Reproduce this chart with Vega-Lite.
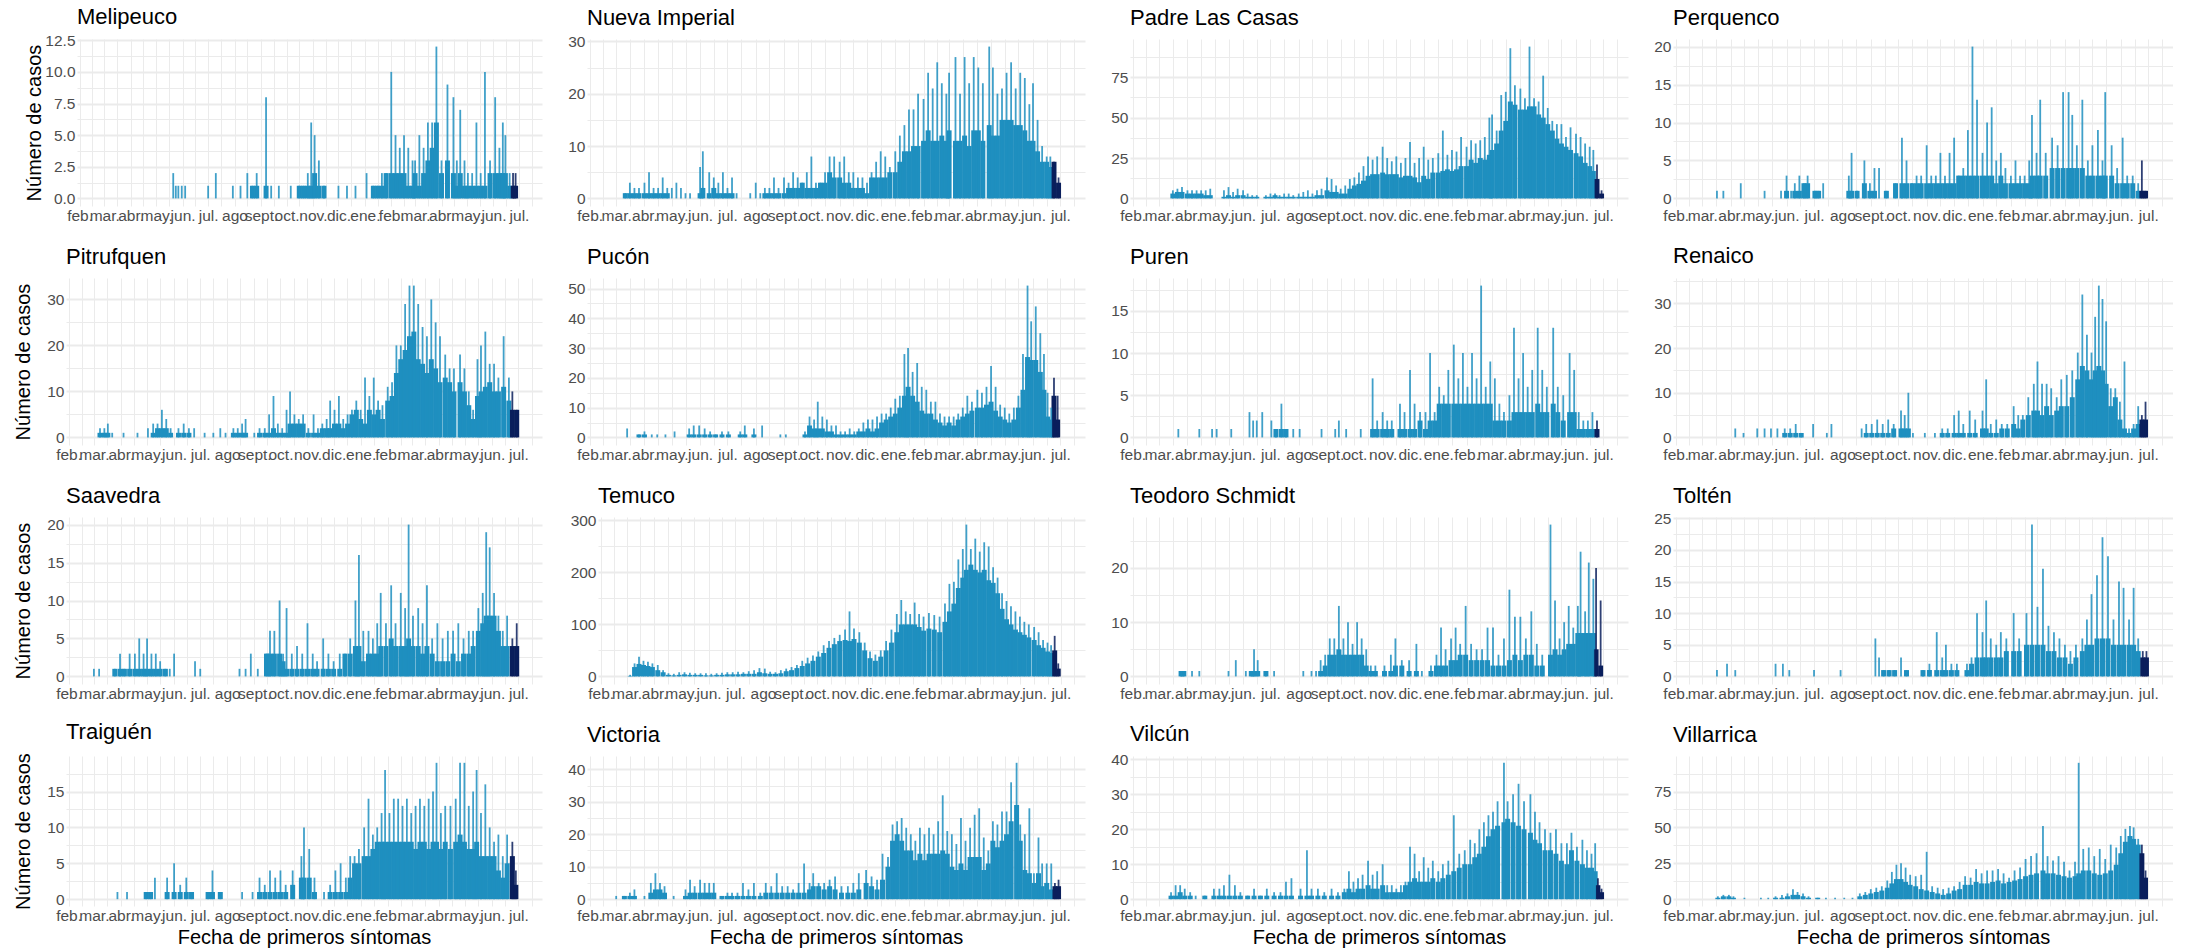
{"$schema":"https://vega.github.io/schema/vega-lite/v6.json","background":"white","padding":{"left":12,"top":6,"right":0,"bottom":0},"bounds":"flush","columns":4,"spacing":{"row":72,"column":45},"params":[{"name":"M","value":["ene.","feb.","mar.","abr.","may.","jun.","jul.","ago","sept.","oct.","nov.","dic."]}],"config":{"view":{"stroke":null},"font":"Liberation Sans","title":{"anchor":"start","frame":"group","fontSize":22,"fontWeight":"normal","color":"#000000","offset":9,"font":"Liberation Sans"},"axis":{"ticks":false,"domain":false,"gridColor":"#ebebeb","labelColor":"#4d4d4d","labelFontSize":15.5,"labelFont":"Liberation Sans","titleFont":"Liberation Sans","titleFontSize":20,"titleFontWeight":"normal","titleColor":"#000000"}},
"datasets":{
"mel":[{"d":"2020-05-21","n":0,"p":2},{"d":"2020-05-24","n":0,"p":1},{"d":"2020-05-27","n":0,"p":1},{"d":"2020-05-31","n":0,"p":1},{"d":"2020-06-04","n":0,"p":1},{"d":"2020-07-01","n":0,"p":1},{"d":"2020-07-10","n":0,"p":2},{"d":"2020-07-30","n":0,"p":1},{"d":"2020-08-08","n":0,"p":1},{"d":"2020-08-16","n":0,"p":2},{"d":"2020-08-22","n":1,"p":1},{"d":"2020-08-27","n":1,"p":2},{"d":"2020-09-07","n":1,"p":8},{"d":"2020-09-13","n":0,"p":1},{"d":"2020-09-22","n":0,"p":1},{"d":"2020-10-06","n":0,"p":1},{"d":"2020-10-16","n":1,"p":1},{"d":"2020-10-21","n":1,"p":1},{"d":"2020-10-26","n":1,"p":2},{"d":"2020-10-30","n":1,"p":6},{"d":"2020-11-03","n":2,"p":5},{"d":"2020-11-08","n":1,"p":3},{"d":"2020-11-14","n":1,"p":1},{"d":"2020-12-01","n":0,"p":1},{"d":"2020-12-11","n":0,"p":1},{"d":"2020-12-21","n":0,"p":1},{"d":"2021-01-03","n":0,"p":2},{"d":"2021-01-11","n":1,"p":1},{"d":"2021-01-16","n":1,"p":1},{"d":"2021-01-21","n":1,"p":2},{"d":"2021-01-26","n":2,"p":2},{"d":"2021-02-01","n":2,"p":10},{"d":"2021-02-06","n":2,"p":5},{"d":"2021-02-11","n":2,"p":4},{"d":"2021-02-16","n":2,"p":5},{"d":"2021-02-21","n":1,"p":4},{"d":"2021-02-26","n":1,"p":3},{"d":"2021-03-01","n":2,"p":3},{"d":"2021-03-06","n":1,"p":5},{"d":"2021-03-11","n":2,"p":4},{"d":"2021-03-16","n":3,"p":6},{"d":"2021-03-21","n":4,"p":6},{"d":"2021-03-26","n":6,"p":12},{"d":"2021-04-01","n":2,"p":3},{"d":"2021-04-08","n":3,"p":9},{"d":"2021-04-15","n":2,"p":8},{"d":"2021-04-19","n":1,"p":3},{"d":"2021-04-23","n":2,"p":7},{"d":"2021-04-28","n":1,"p":3},{"d":"2021-05-02","n":1,"p":2},{"d":"2021-05-07","n":1,"p":2},{"d":"2021-05-12","n":1,"p":6},{"d":"2021-05-17","n":1,"p":2},{"d":"2021-05-22","n":1,"p":10},{"d":"2021-05-28","n":2,"p":3},{"d":"2021-06-03","n":2,"p":8},{"d":"2021-06-08","n":2,"p":4},{"d":"2021-06-12","n":2,"p":6},{"d":"2021-06-15","n":2,"p":5},{"d":"2021-06-20","n":1,"p":2},{"d":"2021-06-24","n":1,"p":2},{"d":"2021-06-27","n":1,"p":2}],
"imp":[{"d":"2020-03-11","n":1,"p":1},{"d":"2020-03-16","n":1,"p":3},{"d":"2020-03-21","n":1,"p":2},{"d":"2020-03-26","n":1,"p":2},{"d":"2020-04-01","n":1,"p":3},{"d":"2020-04-06","n":1,"p":5},{"d":"2020-04-11","n":1,"p":2},{"d":"2020-04-16","n":1,"p":2},{"d":"2020-04-21","n":1,"p":4},{"d":"2020-04-26","n":1,"p":2},{"d":"2020-05-01","n":0,"p":2},{"d":"2020-05-06","n":0,"p":3},{"d":"2020-05-11","n":0,"p":2},{"d":"2020-05-16","n":0,"p":1},{"d":"2020-05-21","n":0,"p":1},{"d":"2020-06-01","n":1,"p":6},{"d":"2020-06-04","n":2,"p":9},{"d":"2020-06-11","n":1,"p":5},{"d":"2020-06-16","n":2,"p":4},{"d":"2020-06-21","n":1,"p":3},{"d":"2020-06-26","n":1,"p":5},{"d":"2020-07-01","n":1,"p":2},{"d":"2020-07-06","n":1,"p":4},{"d":"2020-07-11","n":0,"p":1},{"d":"2020-07-26","n":0,"p":1},{"d":"2020-08-01","n":0,"p":3},{"d":"2020-08-06","n":0,"p":1},{"d":"2020-08-11","n":1,"p":2},{"d":"2020-08-16","n":1,"p":2},{"d":"2020-08-21","n":1,"p":4},{"d":"2020-08-26","n":1,"p":2},{"d":"2020-09-01","n":1,"p":4},{"d":"2020-09-06","n":2,"p":3},{"d":"2020-09-11","n":2,"p":5},{"d":"2020-09-16","n":2,"p":4},{"d":"2020-09-21","n":3,"p":3},{"d":"2020-09-26","n":2,"p":5},{"d":"2020-10-01","n":2,"p":8},{"d":"2020-10-06","n":2,"p":3},{"d":"2020-10-11","n":3,"p":3},{"d":"2020-10-16","n":3,"p":5},{"d":"2020-10-21","n":5,"p":8},{"d":"2020-10-26","n":4,"p":8},{"d":"2020-11-01","n":4,"p":7},{"d":"2020-11-06","n":3,"p":8},{"d":"2020-11-11","n":3,"p":5},{"d":"2020-11-16","n":2,"p":5},{"d":"2020-11-21","n":2,"p":4},{"d":"2020-11-26","n":2,"p":4},{"d":"2020-12-01","n":1,"p":3},{"d":"2020-12-06","n":4,"p":5},{"d":"2020-12-11","n":4,"p":7},{"d":"2020-12-16","n":4,"p":9},{"d":"2020-12-21","n":4,"p":8},{"d":"2020-12-26","n":5,"p":6},{"d":"2021-01-01","n":5,"p":9},{"d":"2021-01-06","n":7,"p":12},{"d":"2021-01-11","n":9,"p":14},{"d":"2021-01-16","n":9,"p":17},{"d":"2021-01-21","n":10,"p":17},{"d":"2021-01-26","n":10,"p":20},{"d":"2021-02-01","n":11,"p":19},{"d":"2021-02-06","n":13,"p":24},{"d":"2021-02-11","n":11,"p":21},{"d":"2021-02-16","n":11,"p":26},{"d":"2021-02-21","n":12,"p":22},{"d":"2021-02-26","n":11,"p":20},{"d":"2021-03-01","n":13,"p":24},{"d":"2021-03-08","n":11,"p":27},{"d":"2021-03-13","n":11,"p":20},{"d":"2021-03-18","n":12,"p":27},{"d":"2021-03-23","n":10,"p":22},{"d":"2021-03-28","n":13,"p":27},{"d":"2021-04-02","n":13,"p":25},{"d":"2021-04-07","n":11,"p":22},{"d":"2021-04-14","n":14,"p":29},{"d":"2021-04-18","n":12,"p":25},{"d":"2021-04-23","n":12,"p":20},{"d":"2021-04-28","n":15,"p":21},{"d":"2021-05-03","n":15,"p":24},{"d":"2021-05-08","n":15,"p":26},{"d":"2021-05-13","n":14,"p":21},{"d":"2021-05-18","n":14,"p":24},{"d":"2021-05-23","n":13,"p":23},{"d":"2021-05-28","n":11,"p":18},{"d":"2021-06-01","n":11,"p":22},{"d":"2021-06-06","n":9,"p":15},{"d":"2021-06-11","n":7,"p":10},{"d":"2021-06-16","n":7,"p":8},{"d":"2021-06-20","n":6,"p":8},{"d":"2021-06-24","n":7,"p":7},{"d":"2021-06-29","n":3,"p":4}],
"pad":[{"d":"2020-03-16","n":3,"p":5},{"d":"2020-03-21","n":4,"p":6},{"d":"2020-03-26","n":4,"p":7},{"d":"2020-04-01","n":3,"p":5},{"d":"2020-04-06","n":3,"p":5},{"d":"2020-04-11","n":3,"p":5},{"d":"2020-04-16","n":3,"p":5},{"d":"2020-04-21","n":2,"p":5},{"d":"2020-04-26","n":2,"p":6},{"d":"2020-05-11","n":1,"p":5},{"d":"2020-05-16","n":2,"p":7},{"d":"2020-05-21","n":1,"p":4},{"d":"2020-05-26","n":2,"p":6},{"d":"2020-06-01","n":2,"p":5},{"d":"2020-06-06","n":1,"p":3},{"d":"2020-06-11","n":1,"p":2},{"d":"2020-06-16","n":1,"p":2},{"d":"2020-06-26","n":1,"p":2},{"d":"2020-07-01","n":1,"p":3},{"d":"2020-07-06","n":2,"p":3},{"d":"2020-07-11","n":1,"p":2},{"d":"2020-07-16","n":1,"p":3},{"d":"2020-07-21","n":1,"p":3},{"d":"2020-07-26","n":1,"p":2},{"d":"2020-08-01","n":1,"p":3},{"d":"2020-08-06","n":1,"p":4},{"d":"2020-08-11","n":1,"p":5},{"d":"2020-08-16","n":1,"p":3},{"d":"2020-08-21","n":2,"p":5},{"d":"2020-08-26","n":2,"p":6},{"d":"2020-09-01","n":5,"p":13},{"d":"2020-09-06","n":4,"p":12},{"d":"2020-09-11","n":4,"p":8},{"d":"2020-09-16","n":3,"p":6},{"d":"2020-09-21","n":3,"p":8},{"d":"2020-09-26","n":6,"p":12},{"d":"2020-10-01","n":8,"p":13},{"d":"2020-10-06","n":9,"p":16},{"d":"2020-10-11","n":11,"p":20},{"d":"2020-10-16","n":14,"p":26},{"d":"2020-10-21","n":15,"p":24},{"d":"2020-10-26","n":15,"p":26},{"d":"2020-11-01","n":16,"p":32},{"d":"2020-11-06","n":15,"p":25},{"d":"2020-11-11","n":15,"p":23},{"d":"2020-11-16","n":15,"p":26},{"d":"2020-11-21","n":13,"p":22},{"d":"2020-11-26","n":14,"p":25},{"d":"2020-12-01","n":14,"p":35},{"d":"2020-12-06","n":13,"p":22},{"d":"2020-12-11","n":10,"p":25},{"d":"2020-12-16","n":14,"p":32},{"d":"2020-12-21","n":12,"p":24},{"d":"2020-12-26","n":16,"p":25},{"d":"2021-01-01","n":16,"p":28},{"d":"2021-01-06","n":17,"p":42},{"d":"2021-01-11","n":18,"p":27},{"d":"2021-01-16","n":17,"p":30},{"d":"2021-01-21","n":18,"p":29},{"d":"2021-01-26","n":20,"p":38},{"d":"2021-02-01","n":20,"p":32},{"d":"2021-02-06","n":24,"p":36},{"d":"2021-02-11","n":22,"p":34},{"d":"2021-02-16","n":25,"p":36},{"d":"2021-02-21","n":24,"p":38},{"d":"2021-02-26","n":27,"p":50},{"d":"2021-03-01","n":30,"p":52},{"d":"2021-03-06","n":34,"p":42},{"d":"2021-03-11","n":42,"p":64},{"d":"2021-03-16","n":48,"p":66},{"d":"2021-03-21","n":60,"p":93},{"d":"2021-03-26","n":58,"p":70},{"d":"2021-04-01","n":55,"p":68},{"d":"2021-04-06","n":55,"p":62},{"d":"2021-04-11","n":57,"p":94},{"d":"2021-04-16","n":57,"p":62},{"d":"2021-04-21","n":52,"p":60},{"d":"2021-04-26","n":50,"p":76},{"d":"2021-05-01","n":46,"p":56},{"d":"2021-05-06","n":42,"p":48},{"d":"2021-05-11","n":37,"p":46},{"d":"2021-05-16","n":34,"p":46},{"d":"2021-05-21","n":32,"p":38},{"d":"2021-05-26","n":30,"p":44},{"d":"2021-06-01","n":28,"p":40},{"d":"2021-06-06","n":26,"p":38},{"d":"2021-06-11","n":22,"p":34},{"d":"2021-06-16","n":20,"p":32},{"d":"2021-06-20","n":17,"p":30},{"d":"2021-06-24","n":12,"p":21},{"d":"2021-06-29","n":3,"p":5}],
"per":[{"d":"2020-03-17","n":0,"p":1},{"d":"2020-03-24","n":0,"p":1},{"d":"2020-04-12","n":0,"p":2},{"d":"2020-05-08","n":0,"p":1},{"d":"2020-05-26","n":0,"p":1},{"d":"2020-06-01","n":1,"p":3},{"d":"2020-06-06","n":0,"p":1},{"d":"2020-06-10","n":1,"p":2},{"d":"2020-06-15","n":1,"p":3},{"d":"2020-06-20","n":2,"p":2},{"d":"2020-06-24","n":2,"p":3},{"d":"2020-07-02","n":1,"p":1},{"d":"2020-07-06","n":1,"p":1},{"d":"2020-07-11","n":0,"p":2},{"d":"2020-08-08","n":1,"p":3},{"d":"2020-08-11","n":1,"p":6},{"d":"2020-08-17","n":1,"p":1},{"d":"2020-08-25","n":2,"p":5},{"d":"2020-08-31","n":1,"p":2},{"d":"2020-09-05","n":1,"p":4},{"d":"2020-09-10","n":0,"p":4},{"d":"2020-09-18","n":1,"p":1},{"d":"2020-09-28","n":2,"p":2},{"d":"2020-10-05","n":2,"p":8},{"d":"2020-10-10","n":2,"p":5},{"d":"2020-10-16","n":2,"p":2},{"d":"2020-10-21","n":2,"p":3},{"d":"2020-10-26","n":2,"p":3},{"d":"2020-11-01","n":2,"p":7},{"d":"2020-11-06","n":2,"p":3},{"d":"2020-11-11","n":2,"p":3},{"d":"2020-11-16","n":2,"p":6},{"d":"2020-11-21","n":2,"p":3},{"d":"2020-11-26","n":2,"p":6},{"d":"2020-12-01","n":2,"p":8},{"d":"2020-12-06","n":3,"p":3},{"d":"2020-12-11","n":3,"p":4},{"d":"2020-12-16","n":3,"p":9},{"d":"2020-12-21","n":3,"p":20},{"d":"2020-12-26","n":3,"p":13},{"d":"2021-01-01","n":3,"p":6},{"d":"2021-01-06","n":3,"p":10},{"d":"2021-01-11","n":3,"p":12},{"d":"2021-01-16","n":2,"p":5},{"d":"2021-01-21","n":3,"p":6},{"d":"2021-01-26","n":2,"p":4},{"d":"2021-02-01","n":2,"p":3},{"d":"2021-02-06","n":2,"p":5},{"d":"2021-02-11","n":2,"p":3},{"d":"2021-02-16","n":2,"p":3},{"d":"2021-02-21","n":2,"p":5},{"d":"2021-02-24","n":3,"p":11},{"d":"2021-03-01","n":3,"p":6},{"d":"2021-03-05","n":3,"p":13},{"d":"2021-03-11","n":3,"p":6},{"d":"2021-03-18","n":4,"p":8},{"d":"2021-03-24","n":4,"p":7},{"d":"2021-03-30","n":4,"p":14},{"d":"2021-04-05","n":4,"p":14},{"d":"2021-04-09","n":4,"p":11},{"d":"2021-04-14","n":4,"p":7},{"d":"2021-04-20","n":4,"p":13},{"d":"2021-04-26","n":3,"p":5},{"d":"2021-05-01","n":3,"p":7},{"d":"2021-05-07","n":3,"p":9},{"d":"2021-05-12","n":3,"p":5},{"d":"2021-05-15","n":3,"p":14},{"d":"2021-05-22","n":3,"p":7},{"d":"2021-05-28","n":2,"p":4},{"d":"2021-06-03","n":2,"p":8},{"d":"2021-06-08","n":2,"p":3},{"d":"2021-06-14","n":2,"p":3},{"d":"2021-06-20","n":1,"p":2},{"d":"2021-06-24","n":1,"p":5},{"d":"2021-06-28","n":1,"p":1}],
"pit":[{"d":"2020-03-08","n":1,"p":2},{"d":"2020-03-13","n":1,"p":2},{"d":"2020-03-17","n":1,"p":3},{"d":"2020-03-22","n":0,"p":1},{"d":"2020-04-04","n":0,"p":1},{"d":"2020-04-20","n":0,"p":1},{"d":"2020-05-02","n":0,"p":2},{"d":"2020-05-08","n":1,"p":3},{"d":"2020-05-13","n":2,"p":3},{"d":"2020-05-18","n":2,"p":6},{"d":"2020-05-23","n":2,"p":4},{"d":"2020-05-28","n":1,"p":2},{"d":"2020-06-06","n":1,"p":2},{"d":"2020-06-12","n":1,"p":3},{"d":"2020-06-18","n":1,"p":2},{"d":"2020-06-24","n":0,"p":2},{"d":"2020-07-06","n":0,"p":1},{"d":"2020-07-16","n":0,"p":1},{"d":"2020-07-24","n":0,"p":2},{"d":"2020-07-30","n":0,"p":1},{"d":"2020-08-08","n":1,"p":2},{"d":"2020-08-13","n":1,"p":2},{"d":"2020-08-18","n":1,"p":3},{"d":"2020-08-22","n":1,"p":4},{"d":"2020-09-01","n":0,"p":1},{"d":"2020-09-07","n":1,"p":2},{"d":"2020-09-13","n":1,"p":2},{"d":"2020-09-18","n":1,"p":5},{"d":"2020-09-23","n":2,"p":9},{"d":"2020-09-28","n":1,"p":3},{"d":"2020-10-03","n":1,"p":2},{"d":"2020-10-08","n":1,"p":6},{"d":"2020-10-12","n":3,"p":10},{"d":"2020-10-17","n":3,"p":5},{"d":"2020-10-22","n":3,"p":4},{"d":"2020-10-27","n":3,"p":5},{"d":"2020-11-02","n":1,"p":2},{"d":"2020-11-08","n":1,"p":5},{"d":"2020-11-13","n":1,"p":2},{"d":"2020-11-18","n":2,"p":3},{"d":"2020-11-23","n":2,"p":4},{"d":"2020-11-27","n":2,"p":8},{"d":"2020-12-02","n":3,"p":6},{"d":"2020-12-07","n":3,"p":9},{"d":"2020-12-12","n":2,"p":4},{"d":"2020-12-17","n":3,"p":5},{"d":"2020-12-22","n":5,"p":6},{"d":"2020-12-27","n":6,"p":8},{"d":"2021-01-01","n":4,"p":6},{"d":"2021-01-06","n":3,"p":13},{"d":"2021-01-11","n":6,"p":9},{"d":"2021-01-16","n":5,"p":13},{"d":"2021-01-21","n":6,"p":8},{"d":"2021-01-26","n":4,"p":7},{"d":"2021-02-01","n":8,"p":11},{"d":"2021-02-06","n":9,"p":12},{"d":"2021-02-11","n":14,"p":20},{"d":"2021-02-16","n":17,"p":20},{"d":"2021-02-21","n":19,"p":29},{"d":"2021-02-26","n":22,"p":33},{"d":"2021-03-03","n":23,"p":33},{"d":"2021-03-08","n":17,"p":29},{"d":"2021-03-13","n":16,"p":24},{"d":"2021-03-18","n":14,"p":22},{"d":"2021-03-23","n":17,"p":30},{"d":"2021-03-28","n":15,"p":25},{"d":"2021-04-02","n":12,"p":22},{"d":"2021-04-08","n":13,"p":18},{"d":"2021-04-13","n":12,"p":15},{"d":"2021-04-18","n":10,"p":15},{"d":"2021-04-25","n":12,"p":18},{"d":"2021-04-30","n":10,"p":15},{"d":"2021-05-05","n":7,"p":10},{"d":"2021-05-10","n":4,"p":6},{"d":"2021-05-15","n":9,"p":17},{"d":"2021-05-19","n":10,"p":20},{"d":"2021-05-24","n":11,"p":23},{"d":"2021-05-29","n":12,"p":16},{"d":"2021-06-03","n":10,"p":16},{"d":"2021-06-08","n":10,"p":13},{"d":"2021-06-14","n":11,"p":22},{"d":"2021-06-20","n":8,"p":13},{"d":"2021-06-24","n":6,"p":10},{"d":"2021-06-29","n":6,"p":6}],
"puc":[{"d":"2020-03-13","n":0,"p":3},{"d":"2020-03-26","n":1,"p":1},{"d":"2020-04-01","n":1,"p":2},{"d":"2020-04-09","n":0,"p":1},{"d":"2020-04-15","n":0,"p":1},{"d":"2020-04-24","n":0,"p":1},{"d":"2020-05-04","n":0,"p":2},{"d":"2020-05-20","n":1,"p":3},{"d":"2020-05-25","n":1,"p":4},{"d":"2020-05-31","n":1,"p":4},{"d":"2020-06-06","n":1,"p":3},{"d":"2020-06-12","n":1,"p":2},{"d":"2020-06-18","n":1,"p":1},{"d":"2020-06-25","n":1,"p":2},{"d":"2020-07-02","n":1,"p":2},{"d":"2020-07-15","n":1,"p":2},{"d":"2020-07-20","n":1,"p":4},{"d":"2020-07-30","n":1,"p":3},{"d":"2020-08-08","n":0,"p":4},{"d":"2020-08-28","n":0,"p":1},{"d":"2020-09-03","n":0,"p":1},{"d":"2020-09-24","n":1,"p":2},{"d":"2020-09-29","n":4,"p":7},{"d":"2020-10-04","n":3,"p":6},{"d":"2020-10-08","n":3,"p":12},{"d":"2020-10-13","n":3,"p":7},{"d":"2020-10-18","n":2,"p":6},{"d":"2020-10-23","n":2,"p":4},{"d":"2020-10-28","n":1,"p":4},{"d":"2020-11-02","n":1,"p":2},{"d":"2020-11-07","n":1,"p":2},{"d":"2020-11-12","n":1,"p":3},{"d":"2020-11-17","n":1,"p":2},{"d":"2020-11-22","n":2,"p":3},{"d":"2020-11-27","n":2,"p":5},{"d":"2020-12-02","n":3,"p":6},{"d":"2020-12-07","n":2,"p":6},{"d":"2020-12-12","n":3,"p":7},{"d":"2020-12-17","n":5,"p":8},{"d":"2020-12-22","n":6,"p":8},{"d":"2020-12-27","n":7,"p":10},{"d":"2021-01-01","n":8,"p":13},{"d":"2021-01-06","n":10,"p":14},{"d":"2021-01-11","n":14,"p":28},{"d":"2021-01-15","n":17,"p":30},{"d":"2021-01-20","n":14,"p":22},{"d":"2021-01-25","n":12,"p":25},{"d":"2021-01-30","n":9,"p":17},{"d":"2021-02-04","n":8,"p":16},{"d":"2021-02-09","n":8,"p":12},{"d":"2021-02-14","n":6,"p":12},{"d":"2021-02-19","n":5,"p":8},{"d":"2021-02-24","n":4,"p":7},{"d":"2021-03-01","n":5,"p":7},{"d":"2021-03-06","n":4,"p":7},{"d":"2021-03-11","n":6,"p":8},{"d":"2021-03-16","n":7,"p":10},{"d":"2021-03-21","n":8,"p":14},{"d":"2021-03-26","n":9,"p":12},{"d":"2021-04-01","n":10,"p":16},{"d":"2021-04-06","n":10,"p":15},{"d":"2021-04-11","n":11,"p":17},{"d":"2021-04-16","n":12,"p":24},{"d":"2021-04-21","n":9,"p":17},{"d":"2021-04-26","n":7,"p":11},{"d":"2021-05-01","n":6,"p":10},{"d":"2021-05-06","n":5,"p":8},{"d":"2021-05-11","n":6,"p":10},{"d":"2021-05-16","n":10,"p":14},{"d":"2021-05-21","n":16,"p":28},{"d":"2021-05-26","n":27,"p":51},{"d":"2021-05-30","n":26,"p":39},{"d":"2021-06-04","n":26,"p":44},{"d":"2021-06-09","n":22,"p":35},{"d":"2021-06-13","n":16,"p":28},{"d":"2021-06-17","n":7,"p":15},{"d":"2021-06-21","n":6,"p":10},{"d":"2021-06-24","n":14,"p":20},{"d":"2021-06-28","n":6,"p":14}],
"pur":[{"d":"2020-03-22","n":0,"p":1},{"d":"2020-04-14","n":0,"p":1},{"d":"2020-04-28","n":0,"p":1},{"d":"2020-05-03","n":0,"p":1},{"d":"2020-05-19","n":0,"p":1},{"d":"2020-06-08","n":0,"p":3},{"d":"2020-06-12","n":0,"p":2},{"d":"2020-06-16","n":0,"p":2},{"d":"2020-06-22","n":0,"p":3},{"d":"2020-07-02","n":0,"p":2},{"d":"2020-07-07","n":1,"p":1},{"d":"2020-07-13","n":1,"p":4},{"d":"2020-07-18","n":1,"p":1},{"d":"2020-07-26","n":0,"p":1},{"d":"2020-08-02","n":0,"p":1},{"d":"2020-08-26","n":0,"p":1},{"d":"2020-09-10","n":0,"p":1},{"d":"2020-09-14","n":0,"p":2},{"d":"2020-09-22","n":0,"p":1},{"d":"2020-10-08","n":0,"p":1},{"d":"2020-10-21","n":1,"p":7},{"d":"2020-10-26","n":1,"p":2},{"d":"2020-11-01","n":1,"p":3},{"d":"2020-11-06","n":1,"p":2},{"d":"2020-11-11","n":1,"p":2},{"d":"2020-11-20","n":1,"p":4},{"d":"2020-11-25","n":1,"p":3},{"d":"2020-12-01","n":1,"p":8},{"d":"2020-12-06","n":1,"p":4},{"d":"2020-12-12","n":2,"p":3},{"d":"2020-12-18","n":1,"p":3},{"d":"2020-12-23","n":2,"p":10},{"d":"2020-12-28","n":2,"p":3},{"d":"2021-01-02","n":4,"p":6},{"d":"2021-01-07","n":4,"p":5},{"d":"2021-01-12","n":4,"p":8},{"d":"2021-01-18","n":4,"p":11},{"d":"2021-01-23","n":4,"p":7},{"d":"2021-01-28","n":4,"p":10},{"d":"2021-02-02","n":4,"p":6},{"d":"2021-02-07","n":4,"p":10},{"d":"2021-02-12","n":4,"p":7},{"d":"2021-02-17","n":4,"p":18},{"d":"2021-02-22","n":4,"p":6},{"d":"2021-02-27","n":4,"p":9},{"d":"2021-03-04","n":2,"p":7},{"d":"2021-03-09","n":2,"p":4},{"d":"2021-03-14","n":2,"p":3},{"d":"2021-03-20","n":2,"p":5},{"d":"2021-03-25","n":3,"p":13},{"d":"2021-03-30","n":3,"p":7},{"d":"2021-04-04","n":3,"p":10},{"d":"2021-04-09","n":3,"p":6},{"d":"2021-04-14","n":3,"p":8},{"d":"2021-04-20","n":4,"p":13},{"d":"2021-04-25","n":3,"p":8},{"d":"2021-04-30","n":3,"p":6},{"d":"2021-05-07","n":4,"p":13},{"d":"2021-05-12","n":3,"p":6},{"d":"2021-05-18","n":2,"p":5},{"d":"2021-05-25","n":3,"p":10},{"d":"2021-05-30","n":3,"p":8},{"d":"2021-06-04","n":1,"p":3},{"d":"2021-06-09","n":1,"p":2},{"d":"2021-06-14","n":1,"p":2},{"d":"2021-06-19","n":1,"p":3},{"d":"2021-06-24","n":1,"p":2}],
"ren":[{"d":"2020-04-06","n":0,"p":2},{"d":"2020-04-15","n":0,"p":1},{"d":"2020-04-30","n":0,"p":2},{"d":"2020-05-08","n":0,"p":2},{"d":"2020-05-15","n":0,"p":2},{"d":"2020-05-22","n":0,"p":2},{"d":"2020-05-30","n":1,"p":2},{"d":"2020-06-05","n":1,"p":2},{"d":"2020-06-11","n":1,"p":3},{"d":"2020-06-17","n":1,"p":1},{"d":"2020-06-30","n":0,"p":3},{"d":"2020-07-15","n":0,"p":1},{"d":"2020-07-20","n":0,"p":3},{"d":"2020-08-22","n":0,"p":2},{"d":"2020-08-27","n":1,"p":3},{"d":"2020-09-02","n":1,"p":3},{"d":"2020-09-08","n":1,"p":4},{"d":"2020-09-14","n":1,"p":3},{"d":"2020-09-20","n":1,"p":4},{"d":"2020-09-26","n":2,"p":3},{"d":"2020-10-04","n":2,"p":6},{"d":"2020-10-08","n":2,"p":5},{"d":"2020-10-12","n":2,"p":10},{"d":"2020-10-17","n":0,"p":1},{"d":"2020-10-30","n":0,"p":1},{"d":"2020-11-10","n":0,"p":1},{"d":"2020-11-18","n":1,"p":2},{"d":"2020-11-24","n":1,"p":2},{"d":"2020-12-01","n":1,"p":5},{"d":"2020-12-06","n":1,"p":6},{"d":"2020-12-11","n":1,"p":3},{"d":"2020-12-18","n":1,"p":6},{"d":"2020-12-24","n":1,"p":4},{"d":"2021-01-01","n":2,"p":6},{"d":"2021-01-05","n":2,"p":13},{"d":"2021-01-10","n":1,"p":3},{"d":"2021-01-16","n":1,"p":4},{"d":"2021-01-22","n":2,"p":3},{"d":"2021-01-28","n":2,"p":3},{"d":"2021-02-04","n":3,"p":7},{"d":"2021-02-09","n":2,"p":5},{"d":"2021-02-14","n":4,"p":5},{"d":"2021-02-20","n":5,"p":9},{"d":"2021-02-26","n":6,"p":12},{"d":"2021-03-02","n":6,"p":17},{"d":"2021-03-07","n":5,"p":12},{"d":"2021-03-12","n":7,"p":12},{"d":"2021-03-17","n":5,"p":11},{"d":"2021-03-23","n":6,"p":9},{"d":"2021-03-28","n":7,"p":13},{"d":"2021-04-03","n":7,"p":14},{"d":"2021-04-09","n":9,"p":15},{"d":"2021-04-15","n":13,"p":19},{"d":"2021-04-20","n":16,"p":32},{"d":"2021-04-25","n":15,"p":23},{"d":"2021-04-30","n":13,"p":19},{"d":"2021-05-04","n":15,"p":27},{"d":"2021-05-08","n":16,"p":34},{"d":"2021-05-12","n":15,"p":31},{"d":"2021-05-16","n":12,"p":26},{"d":"2021-05-21","n":7,"p":11},{"d":"2021-05-26","n":9,"p":11},{"d":"2021-05-31","n":4,"p":8},{"d":"2021-06-05","n":2,"p":17},{"d":"2021-06-10","n":1,"p":2},{"d":"2021-06-15","n":2,"p":3},{"d":"2021-06-20","n":3,"p":7},{"d":"2021-06-24","n":4,"p":5},{"d":"2021-06-28","n":4,"p":8}],
"saa":[{"d":"2020-03-01","n":0,"p":1},{"d":"2020-03-07","n":0,"p":1},{"d":"2020-03-25","n":1,"p":1},{"d":"2020-03-31","n":1,"p":3},{"d":"2020-04-05","n":1,"p":1},{"d":"2020-04-11","n":1,"p":3},{"d":"2020-04-17","n":1,"p":3},{"d":"2020-04-22","n":1,"p":5},{"d":"2020-04-27","n":1,"p":3},{"d":"2020-05-01","n":1,"p":5},{"d":"2020-05-06","n":1,"p":3},{"d":"2020-05-11","n":1,"p":3},{"d":"2020-05-16","n":1,"p":2},{"d":"2020-05-22","n":1,"p":1},{"d":"2020-05-27","n":0,"p":1},{"d":"2020-06-01","n":0,"p":3},{"d":"2020-06-25","n":0,"p":2},{"d":"2020-07-01","n":0,"p":1},{"d":"2020-08-15","n":0,"p":1},{"d":"2020-08-22","n":0,"p":1},{"d":"2020-08-28","n":0,"p":3},{"d":"2020-09-05","n":0,"p":1},{"d":"2020-09-15","n":3,"p":3},{"d":"2020-09-19","n":3,"p":6},{"d":"2020-09-24","n":3,"p":6},{"d":"2020-09-30","n":3,"p":10},{"d":"2020-10-04","n":2,"p":3},{"d":"2020-10-08","n":1,"p":9},{"d":"2020-10-14","n":1,"p":3},{"d":"2020-10-20","n":1,"p":4},{"d":"2020-10-26","n":1,"p":3},{"d":"2020-11-01","n":1,"p":7},{"d":"2020-11-07","n":1,"p":3},{"d":"2020-11-12","n":1,"p":2},{"d":"2020-11-19","n":1,"p":5},{"d":"2020-11-25","n":1,"p":3},{"d":"2020-12-01","n":1,"p":2},{"d":"2020-12-08","n":1,"p":3},{"d":"2020-12-14","n":3,"p":3},{"d":"2020-12-20","n":3,"p":5},{"d":"2020-12-26","n":4,"p":10},{"d":"2020-12-30","n":4,"p":16},{"d":"2021-01-04","n":2,"p":6},{"d":"2021-01-10","n":3,"p":6},{"d":"2021-01-15","n":3,"p":5},{"d":"2021-01-20","n":3,"p":7},{"d":"2021-01-24","n":4,"p":11},{"d":"2021-01-30","n":4,"p":7},{"d":"2021-02-05","n":5,"p":12},{"d":"2021-02-10","n":4,"p":7},{"d":"2021-02-16","n":4,"p":11},{"d":"2021-02-21","n":4,"p":9},{"d":"2021-02-25","n":5,"p":20},{"d":"2021-03-02","n":4,"p":8},{"d":"2021-03-08","n":4,"p":9},{"d":"2021-03-13","n":3,"p":7},{"d":"2021-03-18","n":4,"p":12},{"d":"2021-03-24","n":3,"p":5},{"d":"2021-03-30","n":2,"p":7},{"d":"2021-04-05","n":2,"p":5},{"d":"2021-04-11","n":2,"p":6},{"d":"2021-04-17","n":3,"p":6},{"d":"2021-04-23","n":2,"p":7},{"d":"2021-04-29","n":3,"p":5},{"d":"2021-05-05","n":3,"p":6},{"d":"2021-05-10","n":4,"p":6},{"d":"2021-05-16","n":6,"p":9},{"d":"2021-05-21","n":7,"p":11},{"d":"2021-05-25","n":8,"p":19},{"d":"2021-05-29","n":8,"p":17},{"d":"2021-06-03","n":8,"p":11},{"d":"2021-06-08","n":6,"p":8},{"d":"2021-06-13","n":4,"p":6},{"d":"2021-06-18","n":4,"p":8},{"d":"2021-06-24","n":4,"p":5},{"d":"2021-06-29","n":4,"p":7}],
"tem":[{"d":"2020-03-05","n":1,"p":3},{"d":"2020-03-10","n":18,"p":25},{"d":"2020-03-15","n":24,"p":38},{"d":"2020-03-20","n":22,"p":30},{"d":"2020-03-25","n":20,"p":28},{"d":"2020-03-30","n":18,"p":25},{"d":"2020-04-05","n":12,"p":22},{"d":"2020-04-11","n":8,"p":12},{"d":"2020-04-17","n":3,"p":6},{"d":"2020-04-23","n":2,"p":5},{"d":"2020-04-29","n":3,"p":8},{"d":"2020-05-05","n":4,"p":8},{"d":"2020-05-11","n":3,"p":7},{"d":"2020-05-17","n":3,"p":6},{"d":"2020-05-23","n":3,"p":6},{"d":"2020-05-29","n":2,"p":6},{"d":"2020-06-04","n":2,"p":5},{"d":"2020-06-10","n":3,"p":6},{"d":"2020-06-16","n":3,"p":7},{"d":"2020-06-22","n":4,"p":8},{"d":"2020-06-28","n":4,"p":8},{"d":"2020-07-04","n":4,"p":9},{"d":"2020-07-10","n":5,"p":8},{"d":"2020-07-16","n":5,"p":10},{"d":"2020-07-22","n":5,"p":12},{"d":"2020-07-28","n":8,"p":16},{"d":"2020-08-03","n":6,"p":15},{"d":"2020-08-09","n":5,"p":9},{"d":"2020-08-15","n":5,"p":8},{"d":"2020-08-21","n":6,"p":12},{"d":"2020-08-27","n":10,"p":15},{"d":"2020-09-02","n":12,"p":18},{"d":"2020-09-08","n":16,"p":22},{"d":"2020-09-14","n":20,"p":30},{"d":"2020-09-20","n":25,"p":36},{"d":"2020-09-26","n":30,"p":40},{"d":"2020-10-02","n":38,"p":48},{"d":"2020-10-08","n":45,"p":60},{"d":"2020-10-14","n":55,"p":68},{"d":"2020-10-20","n":62,"p":74},{"d":"2020-10-26","n":68,"p":80},{"d":"2020-11-01","n":70,"p":90},{"d":"2020-11-06","n":68,"p":125},{"d":"2020-11-11","n":72,"p":92},{"d":"2020-11-17","n":65,"p":85},{"d":"2020-11-23","n":50,"p":65},{"d":"2020-11-29","n":35,"p":48},{"d":"2020-12-05","n":30,"p":42},{"d":"2020-12-11","n":38,"p":50},{"d":"2020-12-17","n":50,"p":68},{"d":"2020-12-23","n":65,"p":90},{"d":"2020-12-29","n":85,"p":120},{"d":"2021-01-03","n":100,"p":147},{"d":"2021-01-08","n":100,"p":125},{"d":"2021-01-13","n":100,"p":120},{"d":"2021-01-18","n":100,"p":142},{"d":"2021-01-23","n":95,"p":120},{"d":"2021-01-28","n":88,"p":115},{"d":"2021-02-03","n":92,"p":122},{"d":"2021-02-09","n":90,"p":118},{"d":"2021-02-15","n":85,"p":115},{"d":"2021-02-21","n":105,"p":140},{"d":"2021-02-26","n":125,"p":178},{"d":"2021-03-03","n":140,"p":182},{"d":"2021-03-08","n":170,"p":225},{"d":"2021-03-13","n":190,"p":245},{"d":"2021-03-17","n":205,"p":292},{"d":"2021-03-22","n":215,"p":245},{"d":"2021-03-27","n":205,"p":265},{"d":"2021-04-01","n":200,"p":240},{"d":"2021-04-06","n":205,"p":258},{"d":"2021-04-11","n":185,"p":250},{"d":"2021-04-16","n":180,"p":210},{"d":"2021-04-21","n":160,"p":190},{"d":"2021-04-26","n":130,"p":160},{"d":"2021-05-01","n":110,"p":145},{"d":"2021-05-06","n":100,"p":135},{"d":"2021-05-11","n":90,"p":125},{"d":"2021-05-16","n":85,"p":115},{"d":"2021-05-21","n":80,"p":105},{"d":"2021-05-26","n":75,"p":100},{"d":"2021-06-01","n":70,"p":95},{"d":"2021-06-06","n":60,"p":85},{"d":"2021-06-11","n":55,"p":70},{"d":"2021-06-16","n":48,"p":65},{"d":"2021-06-20","n":45,"p":60},{"d":"2021-06-24","n":50,"p":78},{"d":"2021-06-28","n":15,"p":25}],
"teo":[{"d":"2020-03-25","n":1,"p":1},{"d":"2020-03-28","n":1,"p":1},{"d":"2020-04-06","n":0,"p":1},{"d":"2020-04-14","n":0,"p":1},{"d":"2020-05-16","n":0,"p":1},{"d":"2020-05-24","n":0,"p":3},{"d":"2020-06-04","n":0,"p":1},{"d":"2020-06-10","n":1,"p":1},{"d":"2020-06-13","n":1,"p":5},{"d":"2020-06-17","n":1,"p":3},{"d":"2020-06-26","n":1,"p":1},{"d":"2020-07-05","n":0,"p":1},{"d":"2020-08-06","n":0,"p":1},{"d":"2020-08-15","n":0,"p":1},{"d":"2020-08-20","n":0,"p":1},{"d":"2020-08-25","n":1,"p":3},{"d":"2020-08-30","n":2,"p":4},{"d":"2020-09-04","n":4,"p":7},{"d":"2020-09-09","n":4,"p":7},{"d":"2020-09-14","n":5,"p":13},{"d":"2020-09-19","n":4,"p":7},{"d":"2020-09-24","n":4,"p":10},{"d":"2020-09-29","n":4,"p":6},{"d":"2020-10-04","n":4,"p":10},{"d":"2020-10-09","n":4,"p":7},{"d":"2020-10-14","n":2,"p":5},{"d":"2020-10-19","n":1,"p":2},{"d":"2020-10-24","n":1,"p":2},{"d":"2020-11-03","n":1,"p":2},{"d":"2020-11-10","n":1,"p":4},{"d":"2020-11-15","n":2,"p":7},{"d":"2020-11-22","n":2,"p":3},{"d":"2020-11-30","n":1,"p":3},{"d":"2020-12-08","n":1,"p":6},{"d":"2020-12-14","n":0,"p":1},{"d":"2020-12-24","n":1,"p":2},{"d":"2020-12-30","n":2,"p":4},{"d":"2021-01-04","n":2,"p":9},{"d":"2021-01-09","n":2,"p":5},{"d":"2021-01-15","n":3,"p":7},{"d":"2021-01-20","n":3,"p":9},{"d":"2021-01-25","n":4,"p":6},{"d":"2021-01-31","n":4,"p":13},{"d":"2021-02-06","n":3,"p":6},{"d":"2021-02-12","n":3,"p":5},{"d":"2021-02-18","n":3,"p":5},{"d":"2021-02-24","n":3,"p":9},{"d":"2021-03-02","n":2,"p":9},{"d":"2021-03-08","n":2,"p":4},{"d":"2021-03-14","n":2,"p":7},{"d":"2021-03-20","n":3,"p":16},{"d":"2021-03-26","n":4,"p":11},{"d":"2021-04-01","n":3,"p":11},{"d":"2021-04-07","n":4,"p":7},{"d":"2021-04-13","n":4,"p":12},{"d":"2021-04-19","n":2,"p":6},{"d":"2021-04-25","n":2,"p":4},{"d":"2021-05-04","n":4,"p":28},{"d":"2021-05-09","n":5,"p":14},{"d":"2021-05-14","n":4,"p":7},{"d":"2021-05-19","n":5,"p":10},{"d":"2021-05-24","n":6,"p":13},{"d":"2021-05-29","n":6,"p":9},{"d":"2021-06-03","n":8,"p":13},{"d":"2021-06-06","n":8,"p":23},{"d":"2021-06-11","n":8,"p":12},{"d":"2021-06-15","n":8,"p":21},{"d":"2021-06-20","n":8,"p":18},{"d":"2021-06-23","n":5,"p":20},{"d":"2021-06-28","n":2,"p":14}],
"tol":[{"d":"2020-03-17","n":0,"p":1},{"d":"2020-03-28","n":0,"p":2},{"d":"2020-04-06","n":0,"p":1},{"d":"2020-05-20","n":0,"p":2},{"d":"2020-05-28","n":0,"p":2},{"d":"2020-06-04","n":0,"p":1},{"d":"2020-07-01","n":0,"p":1},{"d":"2020-07-30","n":0,"p":1},{"d":"2020-09-06","n":0,"p":6},{"d":"2020-09-10","n":0,"p":3},{"d":"2020-09-15","n":1,"p":1},{"d":"2020-09-21","n":1,"p":1},{"d":"2020-09-27","n":1,"p":1},{"d":"2020-10-04","n":0,"p":3},{"d":"2020-10-10","n":1,"p":1},{"d":"2020-10-28","n":1,"p":1},{"d":"2020-11-04","n":1,"p":2},{"d":"2020-11-12","n":1,"p":7},{"d":"2020-11-18","n":1,"p":3},{"d":"2020-11-22","n":1,"p":5},{"d":"2020-11-28","n":1,"p":2},{"d":"2020-12-04","n":1,"p":2},{"d":"2020-12-15","n":1,"p":2},{"d":"2020-12-20","n":2,"p":3},{"d":"2020-12-26","n":3,"p":10},{"d":"2021-01-01","n":3,"p":7},{"d":"2021-01-05","n":3,"p":12},{"d":"2021-01-10","n":3,"p":6},{"d":"2021-01-16","n":3,"p":5},{"d":"2021-01-21","n":3,"p":7},{"d":"2021-01-27","n":4,"p":6},{"d":"2021-02-04","n":4,"p":10},{"d":"2021-02-10","n":4,"p":6},{"d":"2021-02-18","n":5,"p":10},{"d":"2021-02-24","n":5,"p":24},{"d":"2021-03-02","n":5,"p":11},{"d":"2021-03-08","n":5,"p":17},{"d":"2021-03-14","n":4,"p":8},{"d":"2021-03-20","n":4,"p":7},{"d":"2021-03-26","n":3,"p":6},{"d":"2021-04-01","n":3,"p":5},{"d":"2021-04-07","n":2,"p":4},{"d":"2021-04-13","n":3,"p":5},{"d":"2021-04-20","n":4,"p":6},{"d":"2021-04-25","n":5,"p":9},{"d":"2021-04-30","n":5,"p":13},{"d":"2021-05-06","n":6,"p":16},{"d":"2021-05-12","n":6,"p":22},{"d":"2021-05-18","n":6,"p":19},{"d":"2021-05-24","n":5,"p":9},{"d":"2021-05-30","n":5,"p":15},{"d":"2021-06-04","n":5,"p":14},{"d":"2021-06-10","n":5,"p":9},{"d":"2021-06-15","n":5,"p":14},{"d":"2021-06-20","n":4,"p":6},{"d":"2021-06-25","n":3,"p":4},{"d":"2021-06-29","n":3,"p":4}],
"tra":[{"d":"2020-03-28","n":0,"p":1},{"d":"2020-04-08","n":0,"p":1},{"d":"2020-04-30","n":1,"p":1},{"d":"2020-05-05","n":1,"p":1},{"d":"2020-05-10","n":0,"p":3},{"d":"2020-05-24","n":1,"p":3},{"d":"2020-06-01","n":1,"p":5},{"d":"2020-06-08","n":1,"p":2},{"d":"2020-06-15","n":1,"p":3},{"d":"2020-06-21","n":1,"p":1},{"d":"2020-07-10","n":1,"p":1},{"d":"2020-07-15","n":1,"p":4},{"d":"2020-07-24","n":1,"p":1},{"d":"2020-08-18","n":0,"p":1},{"d":"2020-08-30","n":0,"p":1},{"d":"2020-09-07","n":1,"p":3},{"d":"2020-09-13","n":1,"p":2},{"d":"2020-09-19","n":1,"p":4},{"d":"2020-09-25","n":1,"p":3},{"d":"2020-10-01","n":1,"p":4},{"d":"2020-10-07","n":1,"p":2},{"d":"2020-10-15","n":2,"p":4},{"d":"2020-10-25","n":3,"p":6},{"d":"2020-10-28","n":3,"p":10},{"d":"2020-11-03","n":3,"p":7},{"d":"2020-11-09","n":1,"p":3},{"d":"2020-11-20","n":0,"p":1},{"d":"2020-11-27","n":1,"p":2},{"d":"2020-12-03","n":1,"p":4},{"d":"2020-12-09","n":1,"p":5},{"d":"2020-12-15","n":1,"p":3},{"d":"2020-12-20","n":3,"p":6},{"d":"2020-12-25","n":5,"p":6},{"d":"2020-12-30","n":5,"p":7},{"d":"2021-01-05","n":6,"p":10},{"d":"2021-01-10","n":6,"p":14},{"d":"2021-01-15","n":7,"p":9},{"d":"2021-01-20","n":8,"p":10},{"d":"2021-01-25","n":8,"p":12},{"d":"2021-01-29","n":8,"p":18},{"d":"2021-02-03","n":8,"p":12},{"d":"2021-02-08","n":8,"p":14},{"d":"2021-02-13","n":8,"p":14},{"d":"2021-02-18","n":8,"p":13},{"d":"2021-02-23","n":8,"p":14},{"d":"2021-02-28","n":8,"p":12},{"d":"2021-03-05","n":7,"p":13},{"d":"2021-03-10","n":8,"p":14},{"d":"2021-03-15","n":8,"p":13},{"d":"2021-03-20","n":7,"p":14},{"d":"2021-03-25","n":8,"p":15},{"d":"2021-03-29","n":8,"p":19},{"d":"2021-04-03","n":7,"p":12},{"d":"2021-04-08","n":8,"p":13},{"d":"2021-04-14","n":7,"p":13},{"d":"2021-04-20","n":8,"p":14},{"d":"2021-04-25","n":9,"p":19},{"d":"2021-04-30","n":8,"p":19},{"d":"2021-05-05","n":7,"p":13},{"d":"2021-05-10","n":7,"p":15},{"d":"2021-05-14","n":8,"p":18},{"d":"2021-05-19","n":6,"p":12},{"d":"2021-05-24","n":6,"p":16},{"d":"2021-05-29","n":6,"p":10},{"d":"2021-06-03","n":6,"p":8},{"d":"2021-06-08","n":4,"p":9},{"d":"2021-06-13","n":3,"p":6},{"d":"2021-06-18","n":5,"p":9},{"d":"2021-06-24","n":6,"p":8},{"d":"2021-06-28","n":2,"p":4}],
"vic":[{"d":"2020-03-01","n":0,"p":1},{"d":"2020-03-10","n":1,"p":1},{"d":"2020-03-16","n":1,"p":2},{"d":"2020-03-21","n":1,"p":3},{"d":"2020-04-01","n":0,"p":1},{"d":"2020-04-08","n":2,"p":5},{"d":"2020-04-13","n":3,"p":8},{"d":"2020-04-18","n":3,"p":5},{"d":"2020-04-23","n":2,"p":4},{"d":"2020-05-03","n":0,"p":1},{"d":"2020-05-16","n":1,"p":3},{"d":"2020-05-21","n":2,"p":6},{"d":"2020-05-26","n":2,"p":4},{"d":"2020-06-01","n":2,"p":6},{"d":"2020-06-06","n":2,"p":5},{"d":"2020-06-11","n":2,"p":5},{"d":"2020-06-16","n":2,"p":5},{"d":"2020-06-25","n":1,"p":1},{"d":"2020-07-01","n":1,"p":2},{"d":"2020-07-06","n":1,"p":2},{"d":"2020-07-12","n":1,"p":2},{"d":"2020-07-18","n":1,"p":5},{"d":"2020-07-24","n":1,"p":3},{"d":"2020-07-30","n":1,"p":5},{"d":"2020-08-06","n":1,"p":2},{"d":"2020-08-12","n":2,"p":5},{"d":"2020-08-18","n":2,"p":4},{"d":"2020-08-24","n":2,"p":8},{"d":"2020-08-30","n":2,"p":4},{"d":"2020-09-05","n":2,"p":4},{"d":"2020-09-11","n":2,"p":3},{"d":"2020-09-17","n":2,"p":5},{"d":"2020-09-23","n":2,"p":11},{"d":"2020-09-29","n":3,"p":5},{"d":"2020-10-03","n":4,"p":8},{"d":"2020-10-09","n":4,"p":5},{"d":"2020-10-15","n":3,"p":5},{"d":"2020-10-21","n":4,"p":6},{"d":"2020-10-27","n":3,"p":7},{"d":"2020-11-03","n":2,"p":4},{"d":"2020-11-10","n":2,"p":4},{"d":"2020-11-16","n":2,"p":5},{"d":"2020-11-22","n":3,"p":8},{"d":"2020-11-30","n":5,"p":9},{"d":"2020-12-06","n":4,"p":7},{"d":"2020-12-12","n":3,"p":6},{"d":"2020-12-18","n":6,"p":14},{"d":"2020-12-24","n":10,"p":13},{"d":"2020-12-29","n":18,"p":23},{"d":"2021-01-03","n":20,"p":24},{"d":"2021-01-08","n":18,"p":25},{"d":"2021-01-13","n":15,"p":22},{"d":"2021-01-18","n":15,"p":20},{"d":"2021-01-23","n":12,"p":18},{"d":"2021-01-28","n":14,"p":22},{"d":"2021-02-02","n":12,"p":20},{"d":"2021-02-07","n":14,"p":22},{"d":"2021-02-12","n":14,"p":20},{"d":"2021-02-17","n":14,"p":24},{"d":"2021-02-22","n":15,"p":32},{"d":"2021-02-27","n":14,"p":21},{"d":"2021-03-04","n":10,"p":20},{"d":"2021-03-09","n":9,"p":17},{"d":"2021-03-14","n":11,"p":25},{"d":"2021-03-19","n":9,"p":18},{"d":"2021-03-24","n":13,"p":22},{"d":"2021-03-29","n":13,"p":26},{"d":"2021-04-03","n":13,"p":28},{"d":"2021-04-08","n":9,"p":19},{"d":"2021-04-13","n":11,"p":15},{"d":"2021-04-18","n":18,"p":24},{"d":"2021-04-23","n":16,"p":23},{"d":"2021-04-28","n":18,"p":27},{"d":"2021-05-03","n":20,"p":27},{"d":"2021-05-08","n":24,"p":36},{"d":"2021-05-14","n":29,"p":42},{"d":"2021-05-18","n":18,"p":23},{"d":"2021-05-23","n":9,"p":20},{"d":"2021-05-28","n":8,"p":28},{"d":"2021-06-02","n":5,"p":8},{"d":"2021-06-07","n":8,"p":19},{"d":"2021-06-11","n":4,"p":11},{"d":"2021-06-16","n":5,"p":11},{"d":"2021-06-21","n":3,"p":11},{"d":"2021-06-25","n":4,"p":5},{"d":"2021-06-29","n":4,"p":6}],
"vil":[{"d":"2020-03-14","n":1,"p":2},{"d":"2020-03-19","n":1,"p":4},{"d":"2020-03-24","n":2,"p":4},{"d":"2020-03-29","n":1,"p":3},{"d":"2020-04-04","n":1,"p":2},{"d":"2020-04-10","n":0,"p":1},{"d":"2020-04-20","n":1,"p":1},{"d":"2020-04-30","n":1,"p":3},{"d":"2020-05-06","n":1,"p":3},{"d":"2020-05-11","n":1,"p":4},{"d":"2020-05-17","n":1,"p":7},{"d":"2020-05-23","n":1,"p":4},{"d":"2020-05-29","n":1,"p":2},{"d":"2020-06-06","n":1,"p":1},{"d":"2020-06-13","n":1,"p":3},{"d":"2020-06-20","n":1,"p":1},{"d":"2020-06-27","n":1,"p":3},{"d":"2020-07-05","n":1,"p":2},{"d":"2020-07-12","n":1,"p":2},{"d":"2020-07-18","n":1,"p":5},{"d":"2020-07-24","n":1,"p":6},{"d":"2020-08-03","n":1,"p":3},{"d":"2020-08-10","n":1,"p":14},{"d":"2020-08-15","n":1,"p":3},{"d":"2020-08-22","n":1,"p":3},{"d":"2020-08-29","n":1,"p":2},{"d":"2020-09-06","n":1,"p":3},{"d":"2020-09-13","n":1,"p":2},{"d":"2020-09-20","n":2,"p":3},{"d":"2020-09-25","n":3,"p":8},{"d":"2020-09-30","n":2,"p":5},{"d":"2020-10-05","n":3,"p":6},{"d":"2020-10-10","n":3,"p":7},{"d":"2020-10-16","n":4,"p":11},{"d":"2020-10-21","n":3,"p":7},{"d":"2020-10-26","n":3,"p":8},{"d":"2020-11-01","n":4,"p":10},{"d":"2020-11-06","n":2,"p":4},{"d":"2020-11-11","n":2,"p":4},{"d":"2020-11-16","n":2,"p":3},{"d":"2020-11-21","n":2,"p":4},{"d":"2020-11-26","n":4,"p":5},{"d":"2020-12-01","n":5,"p":15},{"d":"2020-12-06","n":6,"p":13},{"d":"2020-12-11","n":5,"p":8},{"d":"2020-12-16","n":5,"p":12},{"d":"2020-12-21","n":5,"p":9},{"d":"2020-12-26","n":6,"p":11},{"d":"2021-01-01","n":5,"p":8},{"d":"2021-01-06","n":6,"p":10},{"d":"2021-01-12","n":7,"p":11},{"d":"2021-01-18","n":8,"p":24},{"d":"2021-01-24","n":9,"p":13},{"d":"2021-01-30","n":10,"p":14},{"d":"2021-02-05","n":10,"p":17},{"d":"2021-02-10","n":12,"p":16},{"d":"2021-02-15","n":13,"p":20},{"d":"2021-02-20","n":15,"p":22},{"d":"2021-02-25","n":18,"p":24},{"d":"2021-03-02","n":20,"p":25},{"d":"2021-03-07","n":21,"p":28},{"d":"2021-03-14","n":22,"p":39},{"d":"2021-03-18","n":23,"p":28},{"d":"2021-03-24","n":22,"p":30},{"d":"2021-03-30","n":21,"p":33},{"d":"2021-04-05","n":20,"p":28},{"d":"2021-04-12","n":19,"p":30},{"d":"2021-04-17","n":17,"p":25},{"d":"2021-04-22","n":16,"p":22},{"d":"2021-04-28","n":14,"p":20},{"d":"2021-05-04","n":14,"p":19},{"d":"2021-05-10","n":13,"p":20},{"d":"2021-05-16","n":11,"p":16},{"d":"2021-05-22","n":10,"p":16},{"d":"2021-05-27","n":14,"p":19},{"d":"2021-06-02","n":11,"p":15},{"d":"2021-06-08","n":10,"p":17},{"d":"2021-06-13","n":9,"p":14},{"d":"2021-06-18","n":9,"p":13},{"d":"2021-06-22","n":8,"p":16},{"d":"2021-06-25","n":4,"p":6},{"d":"2021-06-29","n":2,"p":3}],
"vlr":[{"d":"2020-03-18","n":1,"p":2},{"d":"2020-03-24","n":2,"p":3},{"d":"2020-03-30","n":2,"p":3},{"d":"2020-04-04","n":1,"p":2},{"d":"2020-04-16","n":0,"p":1},{"d":"2020-05-04","n":0,"p":1},{"d":"2020-05-12","n":0,"p":1},{"d":"2020-05-20","n":1,"p":2},{"d":"2020-05-27","n":1,"p":3},{"d":"2020-06-02","n":2,"p":4},{"d":"2020-06-08","n":3,"p":7},{"d":"2020-06-13","n":3,"p":5},{"d":"2020-06-19","n":2,"p":4},{"d":"2020-06-25","n":1,"p":2},{"d":"2020-07-05","n":1,"p":1},{"d":"2020-07-14","n":0,"p":1},{"d":"2020-07-24","n":0,"p":1},{"d":"2020-08-03","n":0,"p":1},{"d":"2020-08-12","n":0,"p":1},{"d":"2020-08-20","n":2,"p":4},{"d":"2020-08-26","n":3,"p":5},{"d":"2020-09-01","n":4,"p":7},{"d":"2020-09-07","n":5,"p":8},{"d":"2020-09-13","n":6,"p":9},{"d":"2020-09-19","n":8,"p":13},{"d":"2020-09-24","n":11,"p":19},{"d":"2020-09-29","n":14,"p":24},{"d":"2020-10-04","n":14,"p":25},{"d":"2020-10-09","n":12,"p":22},{"d":"2020-10-14","n":10,"p":17},{"d":"2020-10-20","n":9,"p":16},{"d":"2020-10-26","n":7,"p":17},{"d":"2020-11-01","n":6,"p":33},{"d":"2020-11-07","n":5,"p":9},{"d":"2020-11-13","n":4,"p":8},{"d":"2020-11-19","n":3,"p":7},{"d":"2020-11-25","n":4,"p":8},{"d":"2020-12-01","n":6,"p":9},{"d":"2020-12-07","n":7,"p":12},{"d":"2020-12-13","n":10,"p":16},{"d":"2020-12-19","n":10,"p":15},{"d":"2020-12-25","n":12,"p":21},{"d":"2020-12-31","n":11,"p":18},{"d":"2021-01-06","n":11,"p":20},{"d":"2021-01-12","n":12,"p":20},{"d":"2021-01-18","n":13,"p":21},{"d":"2021-01-24","n":11,"p":18},{"d":"2021-01-30","n":12,"p":15},{"d":"2021-02-05","n":13,"p":20},{"d":"2021-02-11","n":14,"p":22},{"d":"2021-02-17","n":16,"p":28},{"d":"2021-02-23","n":17,"p":30},{"d":"2021-03-01","n":18,"p":32},{"d":"2021-03-08","n":20,"p":51},{"d":"2021-03-13","n":18,"p":30},{"d":"2021-03-19","n":18,"p":27},{"d":"2021-03-25","n":17,"p":30},{"d":"2021-03-31","n":16,"p":26},{"d":"2021-04-06","n":15,"p":20},{"d":"2021-04-12","n":16,"p":26},{"d":"2021-04-16","n":18,"p":95},{"d":"2021-04-21","n":20,"p":35},{"d":"2021-04-27","n":20,"p":36},{"d":"2021-05-03","n":18,"p":30},{"d":"2021-05-09","n":17,"p":35},{"d":"2021-05-15","n":18,"p":28},{"d":"2021-05-21","n":20,"p":38},{"d":"2021-05-27","n":24,"p":36},{"d":"2021-06-01","n":32,"p":44},{"d":"2021-06-06","n":40,"p":49},{"d":"2021-06-11","n":44,"p":51},{"d":"2021-06-15","n":42,"p":50},{"d":"2021-06-20","n":38,"p":42},{"d":"2021-06-24","n":32,"p":38},{"d":"2021-06-28","n":15,"p":20}]},
"concat":[
{"title":{"text":"Melipeuco","dx":11,"dy":5},"width":476,"height":167,"data":{"name":"mel"},"resolve":{"axis":{"y":"independent"}},"encoding":{"x":{"field":"d","type":"temporal","scale":{"type":"utc","nice":false,"padding":0,"domain":[1580256000000,1627430400000],"range":[11,476]},"axis":{"title":null,"tickCount":{"interval":"day","step":15},"labelOverlap":false,"labelFlush":false,"labelExpr":"utcdate(datum.value)==1?M[utcmonth(datum.value)]:''","gridOpacity":{"condition":{"test":"utcdate(datum.value)==31","value":0},"value":1},"gridWidth":1}},"color":{"condition":{"test":"datum.d>=datetime('2021-06-23')","value":"#0a1f5c"},"value":"#1f8fbf"}},"layer":[{"mark":{"type":"bar","width":5},"encoding":{"y":{"field":"n","type":"quantitative","scale":{"domain":[-0.6,12.6],"nice":false},"axis":{"title":"Número de casos","titleX":-33,"offset":-11,"format":".1f","values":[0,1.25,2.5,3.75,5,6.25,7.5,8.75,10,11.25,12.5],"labelOverlap":false,"labelExpr":"datum.value%2.5==0?datum.label:''","gridWidth":{"condition":{"test":"datum.value%2.5==0","value":1.8},"value":1}}}}},{"mark":{"type":"bar","width":1.8,"opacity":0.85},"encoding":{"y":{"field":"p","type":"quantitative","scale":{"domain":[-0.6,12.6],"nice":false},"axis":null}}}]},
{"title":{"text":"Nueva Imperial","dy":5},"width":498,"height":167,"data":{"name":"imp"},"resolve":{"axis":{"y":"independent"}},"encoding":{"x":{"field":"d","type":"temporal","scale":{"type":"utc","nice":false,"padding":0,"domain":[1580256000000,1627430400000]},"axis":{"title":null,"tickCount":{"interval":"day","step":15},"labelOverlap":false,"labelFlush":false,"labelExpr":"utcdate(datum.value)==1?M[utcmonth(datum.value)]:''","gridOpacity":{"condition":{"test":"utcdate(datum.value)==31","value":0},"value":1},"gridWidth":1}},"color":{"condition":{"test":"datum.d>=datetime('2021-06-23')","value":"#0a1f5c"},"value":"#1f8fbf"}},"layer":[{"mark":{"type":"bar","width":5},"encoding":{"y":{"field":"n","type":"quantitative","scale":{"domain":[-1.45,30.45],"nice":false},"axis":{"title":null,"values":[0,5,10,15,20,25,30],"labelOverlap":false,"labelExpr":"datum.value%10==0?datum.label:''","gridWidth":{"condition":{"test":"datum.value%10==0","value":1.8},"value":1}}}}},{"mark":{"type":"bar","width":1.8,"opacity":0.85},"encoding":{"y":{"field":"p","type":"quantitative","scale":{"domain":[-1.45,30.45],"nice":false},"axis":null}}}]},
{"title":"Padre Las Casas","width":498,"height":167,"data":{"name":"pad"},"resolve":{"axis":{"y":"independent"}},"encoding":{"x":{"field":"d","type":"temporal","scale":{"type":"utc","nice":false,"padding":0,"domain":[1580256000000,1627430400000]},"axis":{"title":null,"tickCount":{"interval":"day","step":15},"labelOverlap":false,"labelFlush":false,"labelExpr":"utcdate(datum.value)==1?M[utcmonth(datum.value)]:''","gridOpacity":{"condition":{"test":"utcdate(datum.value)==31","value":0},"value":1},"gridWidth":1}},"color":{"condition":{"test":"datum.d>=datetime('2021-06-23')","value":"#0a1f5c"},"value":"#1f8fbf"}},"layer":[{"mark":{"type":"bar","width":5},"encoding":{"y":{"field":"n","type":"quantitative","scale":{"domain":[-4.7,98.7],"nice":false},"axis":{"title":null,"values":[0,12.5,25,37.5,50,62.5,75,87.5],"labelOverlap":false,"labelExpr":"datum.value%25==0?datum.label:''","gridWidth":{"condition":{"test":"datum.value%25==0","value":1.8},"value":1}}}}},{"mark":{"type":"bar","width":1.8,"opacity":0.85},"encoding":{"y":{"field":"p","type":"quantitative","scale":{"domain":[-4.7,98.7],"nice":false},"axis":null}}}]},
{"title":"Perquenco","width":500,"height":167,"data":{"name":"per"},"resolve":{"axis":{"y":"independent"}},"encoding":{"x":{"field":"d","type":"temporal","scale":{"type":"utc","nice":false,"padding":0,"domain":[1580256000000,1627430400000]},"axis":{"title":null,"tickCount":{"interval":"day","step":15},"labelOverlap":false,"labelFlush":false,"labelExpr":"utcdate(datum.value)==1?M[utcmonth(datum.value)]:''","gridOpacity":{"condition":{"test":"utcdate(datum.value)==31","value":0},"value":1},"gridWidth":1}},"color":{"condition":{"test":"datum.d>=datetime('2021-06-23')","value":"#0a1f5c"},"value":"#1f8fbf"}},"layer":[{"mark":{"type":"bar","width":5},"encoding":{"y":{"field":"n","type":"quantitative","scale":{"domain":[-1,21],"nice":false},"axis":{"title":null,"values":[0,2.5,5,7.5,10,12.5,15,17.5,20],"labelOverlap":false,"labelExpr":"datum.value%5==0?datum.label:''","gridWidth":{"condition":{"test":"datum.value%5==0","value":1.8},"value":1}}}}},{"mark":{"type":"bar","width":1.8,"opacity":0.85},"encoding":{"y":{"field":"p","type":"quantitative","scale":{"domain":[-1,21],"nice":false},"axis":null}}}]},
{"title":"Pitrufquen","width":476,"height":167,"data":{"name":"pit"},"resolve":{"axis":{"y":"independent"}},"encoding":{"x":{"field":"d","type":"temporal","scale":{"type":"utc","nice":false,"padding":0,"domain":[1580256000000,1627430400000]},"axis":{"title":null,"tickCount":{"interval":"day","step":15},"labelOverlap":false,"labelFlush":false,"labelExpr":"utcdate(datum.value)==1?M[utcmonth(datum.value)]:''","gridOpacity":{"condition":{"test":"utcdate(datum.value)==31","value":0},"value":1},"gridWidth":1}},"color":{"condition":{"test":"datum.d>=datetime('2021-06-23')","value":"#0a1f5c"},"value":"#1f8fbf"}},"layer":[{"mark":{"type":"bar","width":5},"encoding":{"y":{"field":"n","type":"quantitative","scale":{"domain":[-1.65,34.65],"nice":false},"axis":{"title":"Número de casos","titleX":-33,"values":[0,5,10,15,20,25,30],"labelOverlap":false,"labelExpr":"datum.value%10==0?datum.label:''","gridWidth":{"condition":{"test":"datum.value%10==0","value":1.8},"value":1}}}}},{"mark":{"type":"bar","width":1.8,"opacity":0.85},"encoding":{"y":{"field":"p","type":"quantitative","scale":{"domain":[-1.65,34.65],"nice":false},"axis":null}}}]},
{"title":"Pucón","width":498,"height":167,"data":{"name":"puc"},"resolve":{"axis":{"y":"independent"}},"encoding":{"x":{"field":"d","type":"temporal","scale":{"type":"utc","nice":false,"padding":0,"domain":[1580256000000,1627430400000]},"axis":{"title":null,"tickCount":{"interval":"day","step":15},"labelOverlap":false,"labelFlush":false,"labelExpr":"utcdate(datum.value)==1?M[utcmonth(datum.value)]:''","gridOpacity":{"condition":{"test":"utcdate(datum.value)==31","value":0},"value":1},"gridWidth":1}},"color":{"condition":{"test":"datum.d>=datetime('2021-06-23')","value":"#0a1f5c"},"value":"#1f8fbf"}},"layer":[{"mark":{"type":"bar","width":5},"encoding":{"y":{"field":"n","type":"quantitative","scale":{"domain":[-2.55,53.55],"nice":false},"axis":{"title":null,"values":[0,5,10,15,20,25,30,35,40,45,50],"labelOverlap":false,"labelExpr":"datum.value%10==0?datum.label:''","gridWidth":{"condition":{"test":"datum.value%10==0","value":1.8},"value":1}}}}},{"mark":{"type":"bar","width":1.8,"opacity":0.85},"encoding":{"y":{"field":"p","type":"quantitative","scale":{"domain":[-2.55,53.55],"nice":false},"axis":null}}}]},
{"title":"Puren","width":498,"height":167,"data":{"name":"pur"},"resolve":{"axis":{"y":"independent"}},"encoding":{"x":{"field":"d","type":"temporal","scale":{"type":"utc","nice":false,"padding":0,"domain":[1580256000000,1627430400000]},"axis":{"title":null,"tickCount":{"interval":"day","step":15},"labelOverlap":false,"labelFlush":false,"labelExpr":"utcdate(datum.value)==1?M[utcmonth(datum.value)]:''","gridOpacity":{"condition":{"test":"utcdate(datum.value)==31","value":0},"value":1},"gridWidth":1}},"color":{"condition":{"test":"datum.d>=datetime('2021-06-23')","value":"#0a1f5c"},"value":"#1f8fbf"}},"layer":[{"mark":{"type":"bar","width":5},"encoding":{"y":{"field":"n","type":"quantitative","scale":{"domain":[-0.9,18.9],"nice":false},"axis":{"title":null,"values":[0,2.5,5,7.5,10,12.5,15,17.5],"labelOverlap":false,"labelExpr":"datum.value%5==0?datum.label:''","gridWidth":{"condition":{"test":"datum.value%5==0","value":1.8},"value":1}}}}},{"mark":{"type":"bar","width":1.8,"opacity":0.85},"encoding":{"y":{"field":"p","type":"quantitative","scale":{"domain":[-0.9,18.9],"nice":false},"axis":null}}}]},
{"title":{"text":"Renaico","dy":3},"width":500,"height":167,"data":{"name":"ren"},"resolve":{"axis":{"y":"independent"}},"encoding":{"x":{"field":"d","type":"temporal","scale":{"type":"utc","nice":false,"padding":0,"domain":[1580256000000,1627430400000]},"axis":{"title":null,"tickCount":{"interval":"day","step":15},"labelOverlap":false,"labelFlush":false,"labelExpr":"utcdate(datum.value)==1?M[utcmonth(datum.value)]:''","gridOpacity":{"condition":{"test":"utcdate(datum.value)==31","value":0},"value":1},"gridWidth":1}},"color":{"condition":{"test":"datum.d>=datetime('2021-06-23')","value":"#0a1f5c"},"value":"#1f8fbf"}},"layer":[{"mark":{"type":"bar","width":5},"encoding":{"y":{"field":"n","type":"quantitative","scale":{"domain":[-1.7,35.7],"nice":false},"axis":{"title":null,"values":[0,5,10,15,20,25,30,35],"labelOverlap":false,"labelExpr":"datum.value%10==0?datum.label:''","gridWidth":{"condition":{"test":"datum.value%10==0","value":1.8},"value":1}}}}},{"mark":{"type":"bar","width":1.8,"opacity":0.85},"encoding":{"y":{"field":"p","type":"quantitative","scale":{"domain":[-1.7,35.7],"nice":false},"axis":null}}}]},
{"title":"Saavedra","width":476,"height":167,"data":{"name":"saa"},"resolve":{"axis":{"y":"independent"}},"encoding":{"x":{"field":"d","type":"temporal","scale":{"type":"utc","nice":false,"padding":0,"domain":[1580256000000,1627430400000]},"axis":{"title":null,"tickCount":{"interval":"day","step":15},"labelOverlap":false,"labelFlush":false,"labelExpr":"utcdate(datum.value)==1?M[utcmonth(datum.value)]:''","gridOpacity":{"condition":{"test":"utcdate(datum.value)==31","value":0},"value":1},"gridWidth":1}},"color":{"condition":{"test":"datum.d>=datetime('2021-06-23')","value":"#0a1f5c"},"value":"#1f8fbf"}},"layer":[{"mark":{"type":"bar","width":5},"encoding":{"y":{"field":"n","type":"quantitative","scale":{"domain":[-1,21],"nice":false},"axis":{"title":"Número de casos","titleX":-33,"values":[0,2.5,5,7.5,10,12.5,15,17.5,20],"labelOverlap":false,"labelExpr":"datum.value%5==0?datum.label:''","gridWidth":{"condition":{"test":"datum.value%5==0","value":1.8},"value":1}}}}},{"mark":{"type":"bar","width":1.8,"opacity":0.85},"encoding":{"y":{"field":"p","type":"quantitative","scale":{"domain":[-1,21],"nice":false},"axis":null}}}]},
{"title":{"text":"Temuco","dx":11,"dy":4},"width":498,"height":167,"data":{"name":"tem"},"resolve":{"axis":{"y":"independent"}},"encoding":{"x":{"field":"d","type":"temporal","scale":{"type":"utc","nice":false,"padding":0,"domain":[1580256000000,1627430400000],"range":[11,498]},"axis":{"title":null,"tickCount":{"interval":"day","step":15},"labelOverlap":false,"labelFlush":false,"labelExpr":"utcdate(datum.value)==1?M[utcmonth(datum.value)]:''","gridOpacity":{"condition":{"test":"utcdate(datum.value)==31","value":0},"value":1},"gridWidth":1}},"color":{"condition":{"test":"datum.d>=datetime('2021-06-23')","value":"#0a1f5c"},"value":"#1f8fbf"}},"layer":[{"mark":{"type":"bar","width":5},"encoding":{"y":{"field":"n","type":"quantitative","scale":{"domain":[-14.6,306.6],"nice":false},"axis":{"title":null,"offset":-11,"values":[0,50,100,150,200,250,300],"labelOverlap":false,"labelExpr":"datum.value%100==0?datum.label:''","gridWidth":{"condition":{"test":"datum.value%100==0","value":1.8},"value":1}}}}},{"mark":{"type":"bar","width":1.8,"opacity":0.85},"encoding":{"y":{"field":"p","type":"quantitative","scale":{"domain":[-14.6,306.6],"nice":false},"axis":null}}}]},
{"title":"Teodoro Schmidt","width":498,"height":167,"data":{"name":"teo"},"resolve":{"axis":{"y":"independent"}},"encoding":{"x":{"field":"d","type":"temporal","scale":{"type":"utc","nice":false,"padding":0,"domain":[1580256000000,1627430400000]},"axis":{"title":null,"tickCount":{"interval":"day","step":15},"labelOverlap":false,"labelFlush":false,"labelExpr":"utcdate(datum.value)==1?M[utcmonth(datum.value)]:''","gridOpacity":{"condition":{"test":"utcdate(datum.value)==31","value":0},"value":1},"gridWidth":1}},"color":{"condition":{"test":"datum.d>=datetime('2021-06-23')","value":"#0a1f5c"},"value":"#1f8fbf"}},"layer":[{"mark":{"type":"bar","width":5},"encoding":{"y":{"field":"n","type":"quantitative","scale":{"domain":[-1.4,29.4],"nice":false},"axis":{"title":null,"values":[0,5,10,15,20,25],"labelOverlap":false,"labelExpr":"datum.value%10==0?datum.label:''","gridWidth":{"condition":{"test":"datum.value%10==0","value":1.8},"value":1}}}}},{"mark":{"type":"bar","width":1.8,"opacity":0.85},"encoding":{"y":{"field":"p","type":"quantitative","scale":{"domain":[-1.4,29.4],"nice":false},"axis":null}}}]},
{"title":{"text":"Toltén","dy":6},"width":500,"height":167,"data":{"name":"tol"},"resolve":{"axis":{"y":"independent"}},"encoding":{"x":{"field":"d","type":"temporal","scale":{"type":"utc","nice":false,"padding":0,"domain":[1580256000000,1627430400000]},"axis":{"title":null,"tickCount":{"interval":"day","step":15},"labelOverlap":false,"labelFlush":false,"labelExpr":"utcdate(datum.value)==1?M[utcmonth(datum.value)]:''","gridOpacity":{"condition":{"test":"utcdate(datum.value)==31","value":0},"value":1},"gridWidth":1}},"color":{"condition":{"test":"datum.d>=datetime('2021-06-23')","value":"#0a1f5c"},"value":"#1f8fbf"}},"layer":[{"mark":{"type":"bar","width":5},"encoding":{"y":{"field":"n","type":"quantitative","scale":{"domain":[-1.2,25.2],"nice":false},"axis":{"title":null,"values":[0,2.5,5,7.5,10,12.5,15,17.5,20,22.5,25],"labelOverlap":false,"labelExpr":"datum.value%5==0?datum.label:''","gridWidth":{"condition":{"test":"datum.value%5==0","value":1.8},"value":1}}}}},{"mark":{"type":"bar","width":1.8,"opacity":0.85},"encoding":{"y":{"field":"p","type":"quantitative","scale":{"domain":[-1.2,25.2],"nice":false},"axis":null}}}]},
{"title":"Traiguén","width":476,"height":150,"data":{"name":"tra"},"resolve":{"axis":{"y":"independent"}},"encoding":{"x":{"field":"d","type":"temporal","scale":{"type":"utc","nice":false,"padding":0,"domain":[1580256000000,1627430400000]},"axis":{"title":"Fecha de primeros síntomas","tickCount":{"interval":"day","step":15},"labelOverlap":false,"labelFlush":false,"labelExpr":"utcdate(datum.value)==1?M[utcmonth(datum.value)]:''","gridOpacity":{"condition":{"test":"utcdate(datum.value)==31","value":0},"value":1},"gridWidth":1}},"color":{"condition":{"test":"datum.d>=datetime('2021-06-23')","value":"#0a1f5c"},"value":"#1f8fbf"}},"layer":[{"mark":{"type":"bar","width":5},"encoding":{"y":{"field":"n","type":"quantitative","scale":{"domain":[-0.95,19.95],"nice":false},"axis":{"title":"Número de casos","titleX":-33,"values":[0,2.5,5,7.5,10,12.5,15,17.5],"labelOverlap":false,"labelExpr":"datum.value%5==0?datum.label:''","gridWidth":{"condition":{"test":"datum.value%5==0","value":1.8},"value":1}}}}},{"mark":{"type":"bar","width":1.8,"opacity":0.85},"encoding":{"y":{"field":"p","type":"quantitative","scale":{"domain":[-0.95,19.95],"nice":false},"axis":null}}}]},
{"title":"Victoria","width":498,"height":150,"data":{"name":"vic"},"resolve":{"axis":{"y":"independent"}},"encoding":{"x":{"field":"d","type":"temporal","scale":{"type":"utc","nice":false,"padding":0,"domain":[1580256000000,1627430400000]},"axis":{"title":"Fecha de primeros síntomas","tickCount":{"interval":"day","step":15},"labelOverlap":false,"labelFlush":false,"labelExpr":"utcdate(datum.value)==1?M[utcmonth(datum.value)]:''","gridOpacity":{"condition":{"test":"utcdate(datum.value)==31","value":0},"value":1},"gridWidth":1}},"color":{"condition":{"test":"datum.d>=datetime('2021-06-23')","value":"#0a1f5c"},"value":"#1f8fbf"}},"layer":[{"mark":{"type":"bar","width":5},"encoding":{"y":{"field":"n","type":"quantitative","scale":{"domain":[-2.1,44.1],"nice":false},"axis":{"title":null,"values":[0,5,10,15,20,25,30,35,40],"labelOverlap":false,"labelExpr":"datum.value%10==0?datum.label:''","gridWidth":{"condition":{"test":"datum.value%10==0","value":1.8},"value":1}}}}},{"mark":{"type":"bar","width":1.8,"opacity":0.85},"encoding":{"y":{"field":"p","type":"quantitative","scale":{"domain":[-2.1,44.1],"nice":false},"axis":null}}}]},
{"title":{"text":"Vilcún","dy":3},"width":498,"height":150,"data":{"name":"vil"},"resolve":{"axis":{"y":"independent"}},"encoding":{"x":{"field":"d","type":"temporal","scale":{"type":"utc","nice":false,"padding":0,"domain":[1580256000000,1627430400000]},"axis":{"title":"Fecha de primeros síntomas","tickCount":{"interval":"day","step":15},"labelOverlap":false,"labelFlush":false,"labelExpr":"utcdate(datum.value)==1?M[utcmonth(datum.value)]:''","gridOpacity":{"condition":{"test":"utcdate(datum.value)==31","value":0},"value":1},"gridWidth":1}},"color":{"condition":{"test":"datum.d>=datetime('2021-06-23')","value":"#0a1f5c"},"value":"#1f8fbf"}},"layer":[{"mark":{"type":"bar","width":5},"encoding":{"y":{"field":"n","type":"quantitative","scale":{"domain":[-1.95,40.95],"nice":false},"axis":{"title":null,"values":[0,5,10,15,20,25,30,35,40],"labelOverlap":false,"labelExpr":"datum.value%10==0?datum.label:''","gridWidth":{"condition":{"test":"datum.value%10==0","value":1.8},"value":1}}}}},{"mark":{"type":"bar","width":1.8,"opacity":0.85},"encoding":{"y":{"field":"p","type":"quantitative","scale":{"domain":[-1.95,40.95],"nice":false},"axis":null}}}]},
{"title":"Villarrica","width":500,"height":150,"data":{"name":"vlr"},"resolve":{"axis":{"y":"independent"}},"encoding":{"x":{"field":"d","type":"temporal","scale":{"type":"utc","nice":false,"padding":0,"domain":[1580256000000,1627430400000]},"axis":{"title":"Fecha de primeros síntomas","tickCount":{"interval":"day","step":15},"labelOverlap":false,"labelFlush":false,"labelExpr":"utcdate(datum.value)==1?M[utcmonth(datum.value)]:''","gridOpacity":{"condition":{"test":"utcdate(datum.value)==31","value":0},"value":1},"gridWidth":1}},"color":{"condition":{"test":"datum.d>=datetime('2021-06-23')","value":"#0a1f5c"},"value":"#1f8fbf"}},"layer":[{"mark":{"type":"bar","width":5},"encoding":{"y":{"field":"n","type":"quantitative","scale":{"domain":[-4.75,99.75],"nice":false},"axis":{"title":null,"values":[0,12.5,25,37.5,50,62.5,75,87.5],"labelOverlap":false,"labelExpr":"datum.value%25==0?datum.label:''","gridWidth":{"condition":{"test":"datum.value%25==0","value":1.8},"value":1}}}}},{"mark":{"type":"bar","width":1.8,"opacity":0.85},"encoding":{"y":{"field":"p","type":"quantitative","scale":{"domain":[-4.75,99.75],"nice":false},"axis":null}}}]}
]}
